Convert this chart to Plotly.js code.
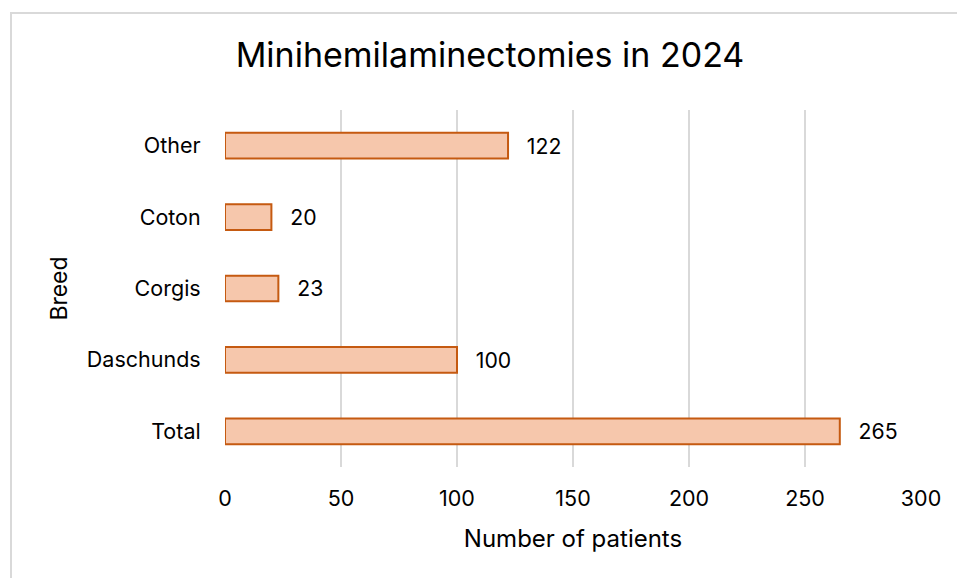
<!DOCTYPE html>
<html>
<head>
<meta charset="utf-8">
<script src="https://cdn.plot.ly/plotly-3.0.1.min.js"></script>
<style>
  html, body { margin: 0; padding: 0; background: #ffffff; overflow: hidden; }
  #frame { position: absolute; left: 10px; top: 12px; width: 960px; height: 600px;
           border-left: 2px solid #d9d9d9; border-top: 2px solid #d9d9d9; box-sizing: border-box; }
  #chart { position: absolute; left: 0; top: 0; width: 957px; height: 578px; }
</style>
</head>
<body>
<div id="frame"></div>
<div id="chart"></div>
<script>
const categories = ["Total", "Daschunds", "Corgis", "Coton", "Other"];
const patients = [265, 100, 23, 20, 122];
const xTicks = [0, 50, 100, 150, 200, 250, 300];

const fontFam = "Inter, 'Noto Sans', sans-serif";

const trace = {
  type: "bar",
  orientation: "h",
  y: categories,
  x: patients,
  width: 0.36,
  marker: { color: "#F6C7AC", line: { color: "#C55A11", width: 2 } },
  text: patients.map(v => "\u00a0\u00a0\u2009" + v),
  textposition: "outside",
  cliponaxis: false,
  textfont: { family: fontFam, size: 21.5, color: "#000000" },
  hoverinfo: "skip"
};

const layout = {
  width: 957, height: 578,
  margin: { l: 225, r: 36, t: 110, b: 111 },
  paper_bgcolor: "rgba(0,0,0,0)",
  plot_bgcolor: "rgba(0,0,0,0)",
  showlegend: false,
  title: { text: "Minihemilaminectomies in 2024", x: 0.512, xanchor: "center", y: 0.905, yanchor: "middle",
           font: { family: fontFam, size: 34, color: "#000000" } },
  xaxis: {
    range: [0, 300], tickvals: xTicks, ticktext: xTicks.map(String),
    showgrid: true, gridcolor: "#d9d9d9", gridwidth: 2,
    zeroline: false, showline: false,
    ticks: "outside", ticklen: 12, tickcolor: "rgba(0,0,0,0)",
    tickfont: { family: fontFam, size: 21.5, color: "#000000" },
    title: { text: "Number of patients", standoff: 20, font: { family: fontFam, size: 24, color: "#000000" } },
    fixedrange: true
  },
  yaxis: {
    type: "category", categoryorder: "array", categoryarray: categories,
    showgrid: false, zeroline: false, showline: false,
    ticks: "outside", ticklen: 19, tickcolor: "rgba(0,0,0,0)",
    tickfont: { family: fontFam, size: 21.5, color: "#000000" },
    title: { text: "Breed", standoff: 12, font: { family: fontFam, size: 23, color: "#000000" } },
    fixedrange: true
  },
  bargap: 0.64
};

Plotly.newPlot("chart", [trace], layout, { displayModeBar: false, staticPlot: true });
</script>
</body>
</html>
